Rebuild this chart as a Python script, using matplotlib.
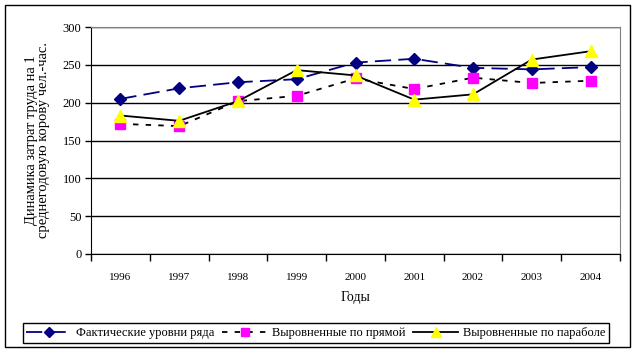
import numpy as np
import matplotlib
matplotlib.use('Agg')
import matplotlib.pyplot as plt
from matplotlib.patches import Rectangle

#-------------------------------------------------------------------------------
# DATA
#-------------------------------------------------------------------------------
years = ['1996', '1997', '1998', '1999', '2000', '2001', '2002', '2003', '2004']
fact = [205, 219, 227, 231, 253, 258, 246, 244, 247]
line_fit = [172, 169, 202, 209, 232, 218, 233, 226, 229]
parab_fit = [183, 176, 202, 243, 236, 204, 211, 257, 268]

labels = ['Фактические уровни ряда', 'Выровненные по прямой', 'Выровненные по параболе']

#-------------------------------------------------------------------------------
# PLOT
#-------------------------------------------------------------------------------
plt.rcParams['font.family'] = ['Liberation Serif', 'DejaVu Serif']

W, H = 636, 354
fig = plt.figure(figsize=(W / 100, H / 100), dpi=100)

# outer frame
fig.patches.append(Rectangle((5 / W, 1 - 347 / H), 625 / W, 342 / H,
                             transform=fig.transFigure, fill=False,
                             edgecolor='black', linewidth=1.0))

ax = fig.add_axes([91 / W, 1 - 254 / H, 529 / W, 227 / H])
x = np.arange(len(years))

ax.plot(x, fact, color='#000080', linestyle=(0, (9, 4)), linewidth=1.3,
        marker='D', markersize=6.5, markerfacecolor='#000080',
        markeredgecolor='#000080', label=labels[0])
ax.plot(x, line_fit, color='black', linestyle=(0, (3, 4)), linewidth=1.3,
        marker='s', markersize=7.5, markerfacecolor='#FF00FF',
        markeredgecolor='#FF00FF', label=labels[1])
ax.plot(x, parab_fit, color='black', linestyle='-', linewidth=1.3,
        marker='^', markersize=9, markerfacecolor='#FFFF00',
        markeredgecolor='#FFFF00', label=labels[2])

ax.set_xlim(-0.5, len(years) - 0.5)
ax.set_ylim(0, 300)
ax.set_yticks(np.arange(0, 301, 50))
ax.yaxis.grid(True, color='black', linewidth=1.0)
ax.set_axisbelow(True)

ax.set_xticks(x)
ax.set_xticklabels(years, fontsize=8)
ax.set_xticks(np.arange(-0.5, len(years)), minor=True)
ax.tick_params(axis='x', which='major', length=0, pad=14)
ax.tick_params(axis='x', which='minor', length=5, width=1, direction='out')
ax.tick_params(axis='y', length=4, width=1, direction='out', labelsize=9, pad=3)

for s in ['top', 'right']:
    ax.spines[s].set_color('#808080')
for s in ['left', 'bottom']:
    ax.spines[s].set_color('black')

ax.set_xlabel('Годы', fontsize=10, labelpad=6)
ax.set_ylabel('Динамика затрат труда на 1\nсреднегодовую корову чел.-час.',
              fontsize=10.5, labelpad=9, linespacing=0.95)

leg = fig.legend(loc='center', bbox_to_anchor=(316 / W, 1 - 333 / H), ncol=3,
                 fontsize=9, frameon=True, fancybox=False, edgecolor='black',
                 framealpha=1, borderpad=0.3, handlelength=3.6, columnspacing=0.6,
                 handletextpad=0.4, markerscale=0.75)
leg.get_frame().set_linewidth(1.0)

plt.savefig('out.png', dpi=100)
